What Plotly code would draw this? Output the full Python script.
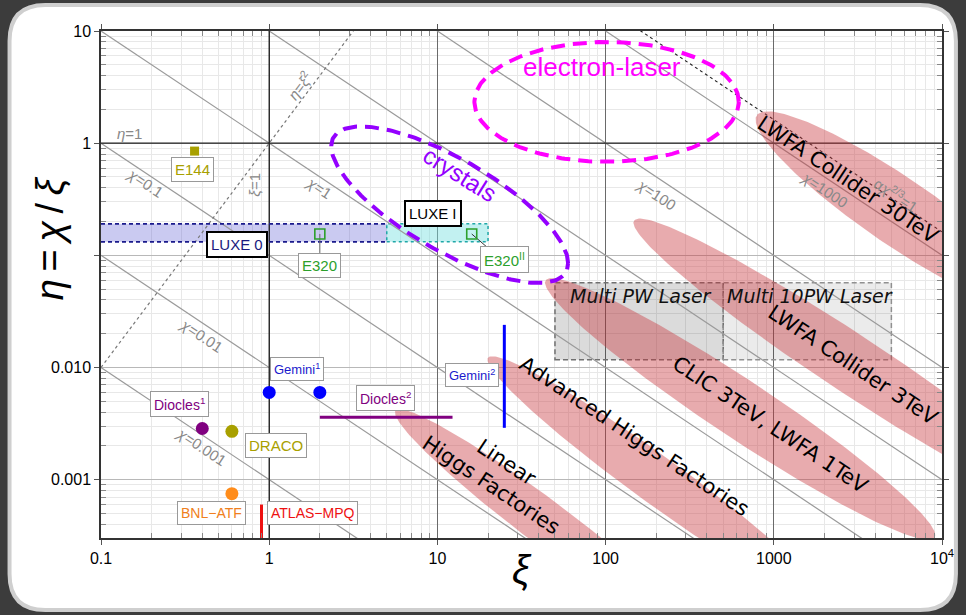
import numpy as np
import plotly.graph_objects as go

# ---------------- data ----------------
x_tickvals = [0.1, 1, 10, 100, 1000, 10000]
x_ticktext = ["0.1", "1", "10", "100", "1000", "10<sup>4</sup>"]
y_tickvals = [0.001, 0.01, 0.1, 1, 10]
y_ticktext = ["0.001", "0.010", " ", "1", "10"]

chi_values = [0.001, 0.01, 0.1, 1, 10, 100, 1000]
chi_dashed = 1620            # alpha chi^(2/3) = 1
xi_line = [0.1, 10000]

# collider ellipses: log10 xi centre, half-length, log10 chi centre, tilt, half-width
coll_names = ["Linear<br>Higgs Factories", "Advanced Higgs Factories",
              "CLIC 3TeV, LWFA 1TeV", "LWFA Collider 3TeV", "LWFA Collider 30TeV"]
coll_c = [1.648, 2.298, 2.80, 3.466, 3.742]
coll_A = [0.90, 1.00, 1.16, 1.30, 0.85]
coll_d = [-1.744, -0.698, 0.43, 1.495, 3.13]
coll_s = [-0.10, -0.066, 0.03, 0.03, 0.035]
coll_B = [0.25, 0.26, 0.31, 0.31, 0.36]

# regime ellipses
elaser = dict(c=2.006, A=0.786, d=2.374, s=1.0, B=0.534)
crystal = dict(c=1.073, A=0.704, d=0.524, s=0.26, B=0.464)

# LUXE bands
luxe0_xi = [0.1, 5]
luxe1_xi = [5, 20]
luxe_eta = [0.132, 0.191]

# multi PW laser boxes
mpw_xi = [50, 500]
m10pw_xi = [500, 5000]
mpw_eta = [0.0117, 0.057]

# experiments
e144_xi, e144_eta = [0.36], [0.85]
e320_xi, e320_eta = [2, 16], [0.155, 0.155]
gem1_xi, gem1_eta = [1, 2], [0.006, 0.006]
gem2_xi, gem2_eta = [25, 25], [0.0029, 0.024]
dio1_xi, dio1_eta = [0.4], [0.00286]
dio2_xi, dio2_eta = [2, 12.3], [0.0036, 0.0036]
draco_xi, draco_eta = [0.6], [0.0027]
bnl_xi, bnl_eta = [0.6], [0.00075]
atlas_xi, atlas_eta = [0.9, 0.9], [0.0003, 0.0006]

# ---------------- figure ----------------
fig = go.Figure()

def ell(c, A, d, s, B, n=240):
    t = np.linspace(0, 2 * np.pi, n)
    lx = c + A * np.cos(t)
    lchi = d + s * A * np.cos(t) + B * np.sin(t)
    return 10 ** lx, 10 ** (lchi - lx)

# chi = const lines
xs = np.logspace(-1, 4, 50)
for chi in chi_values:
    fig.add_trace(go.Scatter(x=xs, y=chi / xs, mode="lines",
                             line=dict(color="#9a9a9a", width=1.2), hoverinfo="skip"))
fig.add_trace(go.Scatter(x=xs, y=chi_dashed / xs, mode="lines",
                         line=dict(color="#222", width=1.1, dash="3px,3px"), hoverinfo="skip"))
# eta = xi^2
fig.add_trace(go.Scatter(x=xs, y=xs ** 2, mode="lines",
                         line=dict(color="#777", width=1.2, dash="dot"), hoverinfo="skip"))
# eta = 1 and xi = 1
fig.add_trace(go.Scatter(x=xi_line, y=[1, 1], mode="lines",
                         line=dict(color="#222", width=1.3), hoverinfo="skip"))
fig.add_trace(go.Scatter(x=[1, 1], y=[1e-4, 100], mode="lines",
                         line=dict(color="#222", width=1.3), hoverinfo="skip"))

# boxes
fig.add_shape(type="rect", xref="x", yref="y", x0=luxe0_xi[0], x1=luxe0_xi[1],
              y0=luxe_eta[0], y1=luxe_eta[1], fillcolor="rgba(90,90,210,0.32)",
              line=dict(width=0), layer="between")
for yy in luxe_eta:
    fig.add_trace(go.Scatter(x=luxe0_xi, y=[yy, yy], mode="lines",
                             line=dict(color="#1a1a8c", width=1.8, dash="4px,3px"), hoverinfo="skip"))
fig.add_shape(type="rect", xref="x", yref="y", x0=luxe1_xi[0], x1=luxe1_xi[1],
              y0=luxe_eta[0], y1=luxe_eta[1], fillcolor="rgba(120,225,225,0.45)",
              line=dict(color="#20a8a8", width=1.5, dash="3px,3px"), layer="between")
fig.add_shape(type="rect", xref="x", yref="y", x0=mpw_xi[0], x1=mpw_xi[1],
              y0=mpw_eta[0], y1=mpw_eta[1], fillcolor="rgba(0,0,0,0.14)",
              line=dict(color="#707070", width=1.5, dash="5px,3px"), layer="between")
fig.add_shape(type="rect", xref="x", yref="y", x0=m10pw_xi[0], x1=m10pw_xi[1],
              y0=mpw_eta[0], y1=mpw_eta[1], fillcolor="rgba(0,0,0,0.08)",
              line=dict(color="#909090", width=1.5, dash="5px,3px"), layer="between")

# collider ellipses
for i in range(len(coll_names)):
    ex, ey = ell(coll_c[i], coll_A[i], coll_d[i], coll_s[i], coll_B[i])
    fig.add_trace(go.Scatter(x=ex, y=ey, mode="lines", fill="toself",
                             fillcolor="rgba(200,55,62,0.42)", line=dict(width=0),
                             hoverinfo="skip"))

# regime ellipses
ex, ey = ell(**elaser)
fig.add_trace(go.Scatter(x=ex, y=ey, mode="lines",
                         line=dict(color="#ff00ff", width=4, dash="14px,8px"), hoverinfo="skip"))
ex, ey = ell(**crystal)
fig.add_trace(go.Scatter(x=ex, y=ey, mode="lines",
                         line=dict(color="#9400ff", width=4, dash="14px,8px"), hoverinfo="skip"))

# connectors
fig.add_trace(go.Scatter(x=[2, 2], y=[0.155, 0.105], mode="lines",
                         line=dict(color="#666", width=1), hoverinfo="skip"))
fig.add_trace(go.Scatter(x=[16, 19.9], y=[0.155, 0.117], mode="lines",
                         line=dict(color="#333", width=1), hoverinfo="skip"))

# experiments
fig.add_trace(go.Scatter(x=e144_xi, y=e144_eta, mode="markers",
                         marker=dict(symbol="square", size=9, color="#a8a000")))
fig.add_trace(go.Scatter(x=e320_xi, y=e320_eta, mode="markers",
                         marker=dict(symbol="square-open", size=10, color="#2ca02c",
                                     line=dict(width=1.6))))
fig.add_trace(go.Scatter(x=gem1_xi, y=gem1_eta, mode="markers",
                         marker=dict(size=13, color="#0000ff")))
fig.add_trace(go.Scatter(x=gem2_xi, y=gem2_eta, mode="lines",
                         line=dict(color="#0000ff", width=3)))
fig.add_trace(go.Scatter(x=dio1_xi, y=dio1_eta, mode="markers",
                         marker=dict(size=13, color="#800080")))
fig.add_trace(go.Scatter(x=dio2_xi, y=dio2_eta, mode="lines",
                         line=dict(color="#800080", width=3)))
fig.add_trace(go.Scatter(x=draco_xi, y=draco_eta, mode="markers",
                         marker=dict(size=13, color="#a8a000")))
fig.add_trace(go.Scatter(x=bnl_xi, y=bnl_eta, mode="markers",
                         marker=dict(size=13, color="#ff8c1a")))
fig.add_trace(go.Scatter(x=atlas_xi, y=atlas_eta, mode="lines",
                         line=dict(color="#ee1111", width=3)))

# ---------------- annotations ----------------
ann = []
def lab(x, y, text, color="#888", size=15, angle=0, family="Liberation Sans", box=None, bw=1):
    d = dict(x=np.log10(x), y=np.log10(y), xref="x", yref="y", text=text, showarrow=False,
             textangle=angle, font=dict(color=color, size=size, family=family),
             xanchor="center", yanchor="middle")
    if box:
        d.update(bgcolor="white", bordercolor=box, borderwidth=bw, borderpad=3)
    ann.append(d)

DIAG = 33.6
lab(0.148, 1.21, "<i>η</i>=1")
lab(0.823, 0.426, "<i>ξ</i>=1", angle=-90)
lab(1.50, 3.30, "<i>η</i>=<i>ξ</i><sup>2</sup>", angle=-53)
lab(0.182, 0.443, "<i>χ</i>=0.1", angle=DIAG)
lab(1.97, 0.40, "<i>χ</i>=1", angle=DIAG)
lab(0.395, 0.0192, "<i>χ</i>=0.01", angle=DIAG)
lab(0.395, 0.00198, "<i>χ</i>=0.001", angle=DIAG)
lab(200, 0.347, "<i>χ</i>=100", angle=DIAG)
lab(1995, 0.384, "<i>χ</i>=1000", angle=DIAG)
lab(5380, 0.347, "α<i>χ</i><sup>2/3</sup>=1", angle=DIAG)

# collider labels
coll_lab_pos = [(23.1, 0.001135), (146.6, 0.002427), (957, 0.0031), (2958, 0.0106), (2767, 0.471)]
for name, (lx, ly) in zip(coll_names, coll_lab_pos):
    lab(lx, ly, name, color="black", size=21, angle=DIAG, family="DejaVu Sans")

lab(94.8, 4.78, "electron-laser", color="#ff00ff", size=26)
lab(13.6, 0.522, "crystals", color="#9400ff", size=24, angle=32)
lab(163, 0.0436, "<i>Multi PW Laser</i>", color="#111", size=19, family="DejaVu Sans")
lab(1648, 0.0436, "<i>Multi 10PW Laser</i>", color="#111", size=19, family="DejaVu Sans")

lab(0.644, 0.124, "LUXE 0", color="#1a1a80", size=15, box="black", bw=2)
lab(9.40, 0.234, "LUXE I", color="black", size=15, box="black", bw=2)
lab(1.99, 0.0807, "E320", color="#2ca02c", size=15, box="#999")
lab(25.0, 0.0914, "E320<sup>II</sup>", color="#2ca02c", size=15, box="#999")
lab(0.349, 0.578, "E144", color="#a8a000", size=15, box="#999")
lab(1.457, 0.00977, "Gemini<sup>1</sup>", color="#1a1acc", size=13, box="#999")
lab(15.96, 0.00865, "Gemini<sup>2</sup>", color="#1a1acc", size=13, box="#999")
lab(0.293, 0.00468, "Diocles<sup>1</sup>", color="#800080", size=14, box="#999")
lab(4.89, 0.0054, "Diocles<sup>2</sup>", color="#800080", size=14, box="#999")
lab(1.095, 0.00202, "DRACO", color="#a8a000", size=15, box="#999")
lab(0.453, 0.0005, "BNL−ATF", color="#f08020", size=14, box="#999")
lab(1.81, 0.0005, "ATLAS−MPQ", color="#ee1111", size=14, box="#999")

# axis titles (paper coords)
W, H = 966, 615
L, R, T, B = 101, 19, 31, 77
pw, ph = W - L - R, H - T - B
def pp(px, py):
    return (px - L) / pw, (H - B - py) / ph
x0, y0 = pp(525, 570)
ann.append(dict(x=x0, y=y0, xref="paper", yref="paper", text="<i>ξ</i>", showarrow=False,
                xanchor="center", yanchor="middle",
                font=dict(size=40, color="black", family="Liberation Sans")))
x0, y0 = pp(50, 238)
ann.append(dict(x=x0, y=y0, xref="paper", yref="paper",
                text="<i>η</i>\u2009=\u2009<i>χ</i>\u2009/\u2009<i>ξ</i>",
                showarrow=False, textangle=-90, xanchor="center", yanchor="middle",
                font=dict(size=38, color="black", family="Liberation Sans")))

# rounded panel
ax0, ay0 = pp(9, 5)
ax1, ay1 = pp(961, 610)
rx, ry = 36 / pw, 36 / ph
path = (f"M {ax0+rx},{ay0} L {ax1-rx},{ay0} Q {ax1},{ay0} {ax1},{ay0-ry} "
        f"L {ax1},{ay1+ry} Q {ax1},{ay1} {ax1-rx},{ay1} L {ax0+rx},{ay1} "
        f"Q {ax0},{ay1} {ax0},{ay1+ry} L {ax0},{ay0-ry} Q {ax0},{ay0} {ax0+rx},{ay0} Z")
fig.add_shape(type="path", xref="paper", yref="paper", path=path,
              fillcolor="white", line=dict(color="#cfcfcf", width=4), layer="below")

minor_x = [m * 10 ** k for k in range(-1, 4) for m in range(2, 10)]
minor_y = [m * 10 ** k for k in range(-4, 1) for m in range(2, 10)]

fig.update_layout(
    width=W, height=H, autosize=False,
    margin=dict(l=L, r=R, t=T, b=B, pad=0),
    paper_bgcolor="#3c3c3c", plot_bgcolor="white",
    showlegend=False, annotations=ann,
    xaxis=dict(type="log", range=[-1, 4], tickmode="array", tickvals=x_tickvals,
               ticktext=x_ticktext, showgrid=True, gridcolor="#6a6a6a", gridwidth=1.2,
               showline=True, linecolor="#333", linewidth=1.5, mirror="allticks",
               ticks="outside", ticklen=5, tickcolor="#555",
               tickfont=dict(size=16, color="black", family="Liberation Sans"),
               minor=dict(tickmode="array", tickvals=minor_x, ticks="inside", ticklen=5,
                          tickcolor="#888", showgrid=True, gridcolor="#e8e8e8"),
               zeroline=False),
    yaxis=dict(type="log", range=[-3.52, 1], tickmode="array", tickvals=y_tickvals,
               ticktext=y_ticktext, showgrid=True, gridcolor="#b8b8b8", gridwidth=1.2,
               showline=True, linecolor="#333", linewidth=1.5, mirror="allticks",
               ticks="outside", ticklen=5, tickcolor="#555",
               tickfont=dict(size=16, color="black", family="Liberation Sans"),
               minor=dict(tickmode="array", tickvals=minor_y, ticks="inside", ticklen=5,
                          tickcolor="#888", showgrid=True, gridcolor="#e8e8e8"),
               zeroline=False),
)

fig.write_html("out.html", config={"displayModeBar": False},
               post_script="document.body.style.margin='0';document.body.style.overflow='hidden';")
